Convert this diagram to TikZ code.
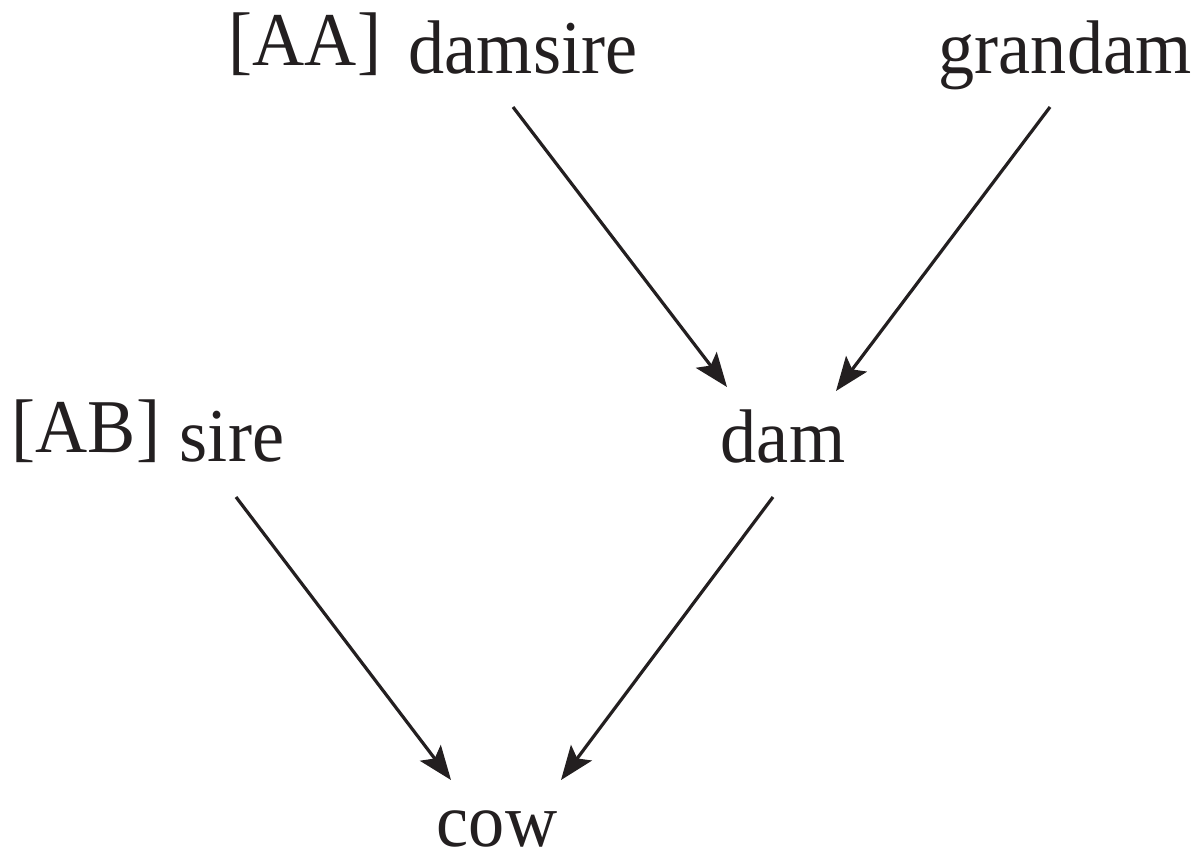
\documentclass[tikz,border=0pt]{standalone}
\usepackage{fontspec}
\setmainfont{Liberation Serif}[FakeStretch=0.95]
\usetikzlibrary{arrows.meta}
\definecolor{ink}{RGB}{35,31,32}
\begin{document}
\begin{tikzpicture}[x=0.5pt,y=-0.5pt,
  lbl/.style={anchor=base,inner sep=0pt,font=\fontsize{38pt}{42pt}\selectfont,text=ink},
  edge/.style={draw=ink,line width=1.6pt,-{Stealth[length=17pt,width=13pt,inset=3.5pt]}}]
\useasboundingbox (0,0) rectangle (1197,858);
\node[lbl] (AA) at (305,65) {[AA]};
\node[lbl] (damsire) at (523,73) {damsire};
\node[lbl] (grandam) at (1065,73) {grandam};
\node[lbl] (AB) at (86,452) {[AB]};
\node[lbl] (sire) at (232,461) {sire};
\node[lbl] (dam) at (783,462) {dam};
\node[lbl] (cow) at (497,846) {cow};
\coordinate (s1) at (513,107);
\coordinate (e1) at (727,387);
\coordinate (s2) at (1050,107);
\coordinate (e2) at (836,391);
\coordinate (s3) at (236,497);
\coordinate (e3) at (451,780);
\coordinate (s4) at (773,497);
\coordinate (e4) at (561,780);
\draw[edge] (s1) -- (e1);
\draw[edge] (s2) -- (e2);
\draw[edge] (s3) -- (e3);
\draw[edge] (s4) -- (e4);
\end{tikzpicture}
\end{document}
